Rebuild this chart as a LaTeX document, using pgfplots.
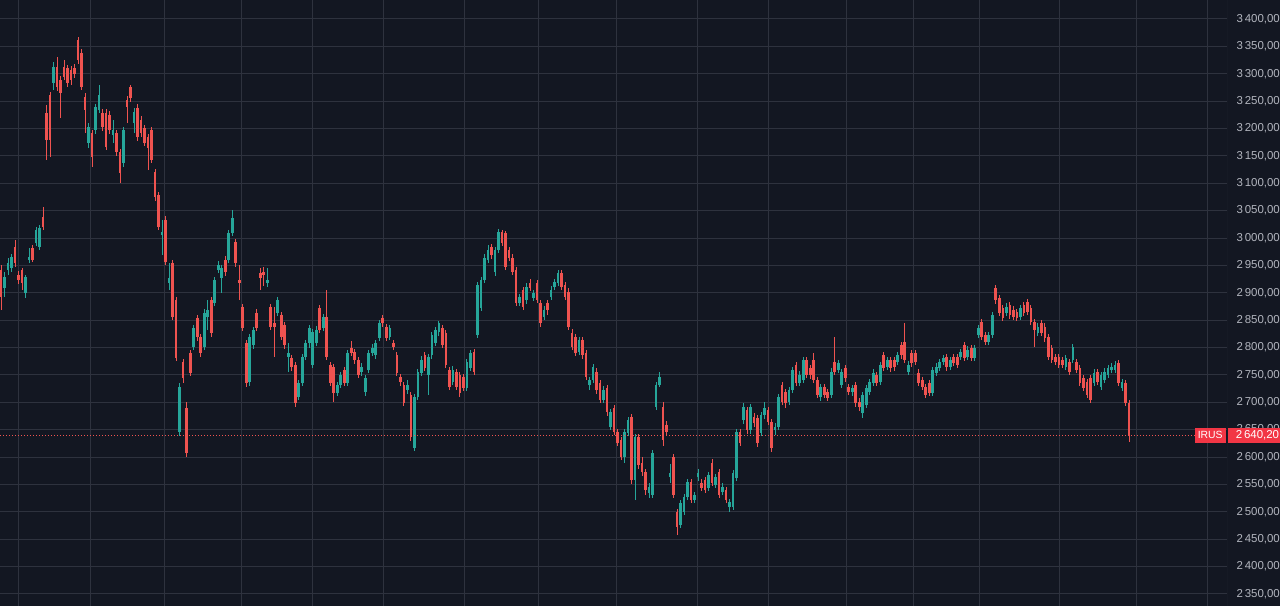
\documentclass[border=0pt]{standalone}
\usepackage{pgfplots}
\pgfplotsset{compat=1.18}
\usepackage{pgfplotstable}
\usepackage{fontspec}
\setmainfont{Liberation Sans}

\definecolor{bgc}{HTML}{131722}
\definecolor{gridc}{HTML}{2E323E}
\definecolor{upc}{HTML}{26A69A}
\definecolor{dnc}{HTML}{EF5350}
\definecolor{txtc}{HTML}{B2B5BE}
\definecolor{tagc}{HTML}{F23645}

% daily candles: index, open, high, low, close
\pgfplotstableread{
i o h l c
0 2942 2951 2869 2892
1 2909 2938 2892 2929
2 2942 2964 2933 2954
3 2945 2970 2938 2965
4 2984 2996 2948 2954
5 2933 2940 2916 2923
6 2942 2946 2905 2918
7 2900 2933 2890 2929
8 2960 2982 2954 2965
9 2982 2988 2956 2960
10 2991 3020 2985 3015
11 2984 3024 2978 3018
12 3038 3057 3015 3020
13 3228 3243 3143 3179
14 3261 3266 3148 3179
15 3283 3322 3270 3312
16 3312 3331 3268 3276
17 3289 3295 3219 3265
18 3312 3325 3288 3294
19 3310 3316 3275 3283
20 3307 3315 3280 3289
21 3310 3318 3292 3300
22 3362 3368 3318 3325
23 3338 3345 3270 3276
24 3258 3264 3192 3234
25 3174 3210 3165 3203
26 3192 3198 3130 3148
27 3197 3245 3190 3239
28 3234 3280 3228 3261
29 3228 3236 3196 3203
30 3228 3235 3160 3166
31 3225 3232 3190 3197
32 3188 3215 3174 3197
33 3192 3198 3150 3157
34 3157 3162 3100 3119
35 3137 3203 3130 3197
36 3252 3260 3210 3239
37 3276 3280 3248 3256
38 3210 3238 3192 3230
39 3238 3244 3178 3185
40 3216 3222 3185 3192
41 3201 3206 3168 3174
42 3185 3190 3124 3164
43 3197 3203 3137 3143
44 3121 3126 3068 3075
45 3079 3084 3014 3020
46 3006 3033 2969 3011
47 3033 3040 2950 2956
48 2918 2954 2905 2927
49 2954 2960 2850 2856
50 2887 2892 2775 2781
51 2646 2735 2638 2728
52 2774 2780 2735 2744
53 2690 2700 2600 2607
54 2790 2796 2748 2754
55 2801 2842 2795 2836
56 2854 2860 2812 2819
57 2819 2825 2783 2790
58 2801 2870 2795 2863
59 2856 2887 2832 2869
60 2887 2893 2820 2827
61 2881 2929 2875 2923
62 2942 2958 2936 2951
63 2927 2951 2900 2945
64 2960 2968 2930 2938
65 2960 3015 2954 3009
66 3009 3051 3003 3037
67 2993 2998 2948 2954
68 2923 2951 2887 2918
69 2874 2880 2830 2836
70 2808 2814 2728 2735
71 2737 2825 2730 2819
72 2805 2838 2798 2832
73 2863 2870 2830 2836
74 2936 2945 2905 2927
75 2938 2947 2912 2933
76 2918 2945 2911 2923
77 2874 2880 2832 2838
78 2845 2874 2783 2838
79 2863 2892 2858 2887
80 2859 2865 2813 2819
81 2841 2847 2798 2805
82 2783 2808 2755 2790
83 2781 2786 2758 2765
84 2768 2774 2692 2699
85 2710 2741 2704 2735
86 2735 2788 2730 2783
87 2783 2814 2778 2808
88 2808 2842 2800 2836
89 2768 2834 2762 2828
90 2808 2840 2802 2832
91 2872 2878 2826 2832
92 2836 2862 2830 2856
93 2856 2905 2777 2783
94 2768 2774 2730 2735
95 2765 2770 2701 2717
96 2717 2738 2712 2732
97 2732 2756 2726 2750
98 2759 2765 2730 2735
99 2735 2796 2730 2790
100 2799 2812 2785 2790
101 2792 2798 2770 2777
102 2777 2783 2744 2750
103 2755 2772 2748 2765
104 2719 2750 2712 2744
105 2759 2796 2754 2790
106 2790 2806 2784 2799
107 2786 2814 2780 2808
108 2817 2851 2812 2845
109 2854 2859 2838 2845
110 2838 2843 2812 2817
111 2819 2842 2814 2836
112 2808 2814 2795 2801
113 2786 2792 2748 2754
114 2746 2752 2730 2737
115 2732 2738 2693 2699
116 2723 2740 2716 2732
117 2713 2719 2630 2637
118 2617 2716 2611 2710
119 2710 2761 2704 2755
120 2754 2784 2748 2777
121 2786 2792 2757 2763
122 2750 2789 2713 2783
123 2786 2829 2780 2823
124 2808 2838 2802 2832
125 2828 2848 2822 2845
126 2836 2842 2799 2805
127 2827 2832 2762 2768
128 2759 2765 2722 2728
129 2737 2766 2731 2759
130 2755 2760 2722 2728
131 2750 2756 2710 2717
132 2746 2752 2720 2726
133 2726 2780 2720 2774
134 2763 2796 2757 2790
135 2792 2798 2749 2755
136 2823 2920 2818 2914
137 2872 2929 2866 2923
138 2923 2970 2917 2964
139 2960 2988 2954 2978
140 2984 2990 2962 2969
141 2938 2984 2930 2978
142 2978 3017 2972 3011
143 3011 3015 2985 2991
144 3009 3013 2941 2947
145 2978 2984 2958 2964
146 2964 2970 2932 2938
147 2942 2947 2875 2881
148 2881 2898 2875 2892
149 2905 2911 2868 2874
150 2887 2917 2880 2911
151 2918 2925 2903 2909
152 2891 2906 2885 2900
153 2918 2923 2881 2887
154 2881 2887 2838 2845
155 2856 2875 2850 2869
156 2881 2887 2860 2869
157 2892 2912 2886 2905
158 2911 2926 2905 2920
159 2918 2942 2912 2936
160 2936 2942 2905 2911
161 2914 2920 2886 2892
162 2902 2908 2832 2838
163 2827 2833 2795 2801
164 2819 2825 2784 2790
165 2792 2820 2786 2814
166 2814 2820 2780 2786
167 2790 2796 2740 2746
168 2732 2747 2722 2741
169 2741 2770 2735 2765
170 2755 2762 2716 2723
171 2735 2740 2698 2704
172 2704 2730 2698 2723
173 2726 2732 2675 2682
174 2655 2688 2649 2682
175 2690 2696 2640 2646
176 2646 2652 2620 2626
177 2631 2637 2594 2600
178 2600 2652 2590 2646
179 2644 2674 2638 2668
180 2673 2678 2550 2558
181 2558 2643 2522 2637
182 2637 2642 2578 2585
183 2589 2600 2565 2573
184 2573 2578 2530 2540
185 2534 2552 2525 2545
186 2531 2613 2525 2607
187 2691 2738 2686 2732
188 2732 2755 2728 2746
189 2691 2700 2620 2631
190 2659 2665 2640 2646
191 2564 2588 2553 2571
192 2600 2606 2525 2531
193 2500 2505 2458 2472
194 2476 2522 2470 2516
195 2500 2533 2494 2527
196 2527 2560 2521 2554
197 2554 2560 2516 2522
198 2522 2537 2516 2531
199 2564 2578 2556 2571
200 2553 2560 2538 2543
201 2558 2563 2534 2540
202 2543 2572 2538 2567
203 2589 2596 2547 2553
204 2549 2570 2543 2564
205 2573 2578 2525 2531
206 2536 2552 2530 2545
207 2540 2546 2516 2522
208 2509 2524 2500 2518
209 2509 2577 2503 2571
210 2562 2652 2556 2646
211 2646 2652 2620 2626
212 2668 2698 2660 2691
213 2686 2692 2642 2649
214 2649 2697 2643 2691
215 2673 2680 2655 2662
216 2671 2677 2618 2626
217 2644 2683 2638 2677
218 2677 2700 2670 2690
219 2686 2692 2658 2664
220 2664 2670 2610 2617
221 2649 2662 2640 2655
222 2655 2716 2649 2710
223 2732 2738 2695 2701
224 2719 2725 2690 2699
225 2701 2728 2695 2723
226 2723 2765 2717 2759
227 2768 2774 2729 2735
228 2735 2757 2729 2750
229 2741 2783 2735 2777
230 2777 2783 2744 2750
231 2763 2768 2743 2750
232 2777 2790 2735 2741
233 2741 2746 2707 2713
234 2710 2734 2703 2728
235 2728 2733 2707 2713
236 2719 2725 2702 2708
237 2713 2762 2708 2755
238 2774 2819 2749 2755
239 2759 2778 2753 2772
240 2732 2760 2726 2755
241 2763 2769 2738 2744
242 2728 2734 2713 2719
243 2719 2732 2712 2726
244 2732 2738 2692 2699
245 2701 2707 2684 2691
246 2680 2719 2672 2713
247 2695 2732 2689 2726
248 2719 2743 2713 2737
249 2735 2760 2729 2754
250 2750 2756 2729 2735
251 2737 2774 2731 2768
252 2786 2792 2757 2763
253 2765 2783 2759 2777
254 2777 2783 2756 2763
255 2777 2782 2758 2765
256 2774 2792 2768 2786
257 2805 2811 2780 2786
258 2810 2845 2771 2777
259 2755 2775 2749 2768
260 2790 2796 2765 2772
261 2790 2796 2768 2774
262 2754 2760 2729 2735
263 2741 2747 2722 2728
264 2728 2733 2707 2713
265 2735 2741 2711 2717
266 2717 2765 2711 2759
267 2754 2771 2748 2765
268 2763 2780 2757 2774
269 2774 2787 2768 2781
270 2783 2789 2758 2765
271 2765 2783 2759 2777
272 2783 2789 2766 2772
273 2783 2789 2762 2768
274 2783 2798 2777 2792
275 2805 2811 2775 2781
276 2783 2802 2777 2796
277 2799 2805 2775 2781
278 2781 2805 2775 2799
279 2823 2842 2817 2836
280 2847 2853 2813 2819
281 2823 2829 2804 2810
282 2810 2829 2804 2823
283 2823 2865 2817 2859
284 2909 2914 2880 2887
285 2891 2896 2857 2863
286 2872 2878 2848 2854
287 2863 2882 2857 2874
288 2878 2884 2853 2859
289 2869 2875 2850 2856
290 2865 2871 2848 2854
291 2856 2878 2850 2872
292 2878 2884 2857 2863
293 2883 2889 2859 2865
294 2872 2878 2841 2847
295 2847 2852 2801 2832
296 2827 2844 2821 2838
297 2845 2851 2821 2827
298 2838 2844 2811 2817
299 2819 2825 2777 2783
300 2799 2805 2771 2777
301 2783 2789 2768 2774
302 2783 2789 2762 2768
303 2777 2783 2762 2768
304 2765 2787 2759 2781
305 2774 2780 2749 2755
306 2777 2807 2771 2801
307 2774 2780 2753 2759
308 2763 2769 2729 2735
309 2744 2750 2720 2726
310 2737 2743 2707 2713
311 2744 2750 2698 2704
312 2735 2760 2729 2754
313 2755 2761 2731 2737
314 2728 2756 2722 2750
315 2741 2762 2735 2755
316 2750 2769 2744 2763
317 2759 2771 2753 2765
318 2759 2775 2753 2768
319 2772 2778 2729 2735
320 2726 2743 2720 2737
321 2735 2741 2693 2699
322 2699 2705 2627 2640.2
}\candles

\begin{document}
\begin{tikzpicture}
\path[use as bounding box, fill=bgc] (0,0) rectangle (960pt,454.5pt);
\begin{axis}[
    at={(0,0)}, anchor=south west,
    scale only axis,
    width=920.25pt, height=454.5pt,
    xmin=-0.29, xmax=350,
    ymin=2328.05, ymax=3434.7,
    axis line style={draw=none},
    major tick length=0pt,
    xtick={4.85,25.41,46.53,68.71,88.78,109.14,132.26,153.58,175.76,198.89,219.24,241.42,260.63,279.47,302.11,324.21,344.56},
    xticklabels={},
    ytick={2350,2400,...,3400},
    grid=major,
    grid style={gridc, line width=0.75pt},
    yticklabel pos=right,
    yticklabel style={anchor=west, xshift=3.6pt, text=txtc,
        font=\fontsize{8.6}{10}\selectfont,
        /pgf/number format/.cd, fixed, fixed zerofill, precision=2,
        use comma, 1000 sep={\,}, assume math mode=true},
]
% wicks
\addplot[draw=none, mark=none,
    restrict expr to domain={\thisrow{c}-\thisrow{o}}{0:100000},
    error bars/.cd, y dir=both, y explicit, error mark=none,
    error bar style={draw=upc, line width=0.6pt}]
    table[x=i, y expr={(\thisrow{h}+\thisrow{l})/2},
          y error expr={(\thisrow{h}-\thisrow{l})/2}] {\candles};
\addplot[draw=none, mark=none,
    restrict expr to domain={\thisrow{c}-\thisrow{o}}{-100000:-0.001},
    error bars/.cd, y dir=both, y explicit, error mark=none,
    error bar style={draw=dnc, line width=0.6pt}]
    table[x=i, y expr={(\thisrow{h}+\thisrow{l})/2},
          y error expr={(\thisrow{h}-\thisrow{l})/2}] {\candles};
% bodies
\addplot[draw=none, mark=none,
    restrict expr to domain={\thisrow{c}-\thisrow{o}}{0:100000},
    error bars/.cd, y dir=both, y explicit, error mark=none,
    error bar style={draw=upc, line width=2pt}]
    table[x=i, y expr={(\thisrow{o}+\thisrow{c})/2},
          y error expr={max(abs(\thisrow{c}-\thisrow{o})/2,1)}] {\candles};
\addplot[draw=none, mark=none,
    restrict expr to domain={\thisrow{c}-\thisrow{o}}{-100000:-0.001},
    error bars/.cd, y dir=both, y explicit, error mark=none,
    error bar style={draw=dnc, line width=2pt}]
    table[x=i, y expr={(\thisrow{o}+\thisrow{c})/2},
          y error expr={max(abs(\thisrow{c}-\thisrow{o})/2,1)}] {\candles};
% last price line
\draw[dnc, line width=0.75pt, dash pattern=on 0.75pt off 1.5pt]
    (axis cs:-0.29,2640.2) -- (axis cs:341,2640.2);
\draw[gridc, line width=0.75pt] (rel axis cs:1,0) -- (rel axis cs:1,1);
\coordinate (pp) at (axis cs:350,2640.2);
\end{axis}
\node[fill=tagc, text=white, inner sep=0pt, minimum width=23.25pt,
      minimum height=11.25pt, anchor=east,
      font=\fontsize{7.8}{9}\selectfont] at ([xshift=-0.75pt]pp) {IRUS};
\node[fill=tagc, text=white, inner xsep=5.6pt, inner ysep=0pt,
      minimum height=11.25pt, anchor=west,
      font=\fontsize{8.6}{10}\selectfont] at ([xshift=0.75pt]pp) {2\,640,20\hspace{8pt}};
\end{tikzpicture}
\end{document}
